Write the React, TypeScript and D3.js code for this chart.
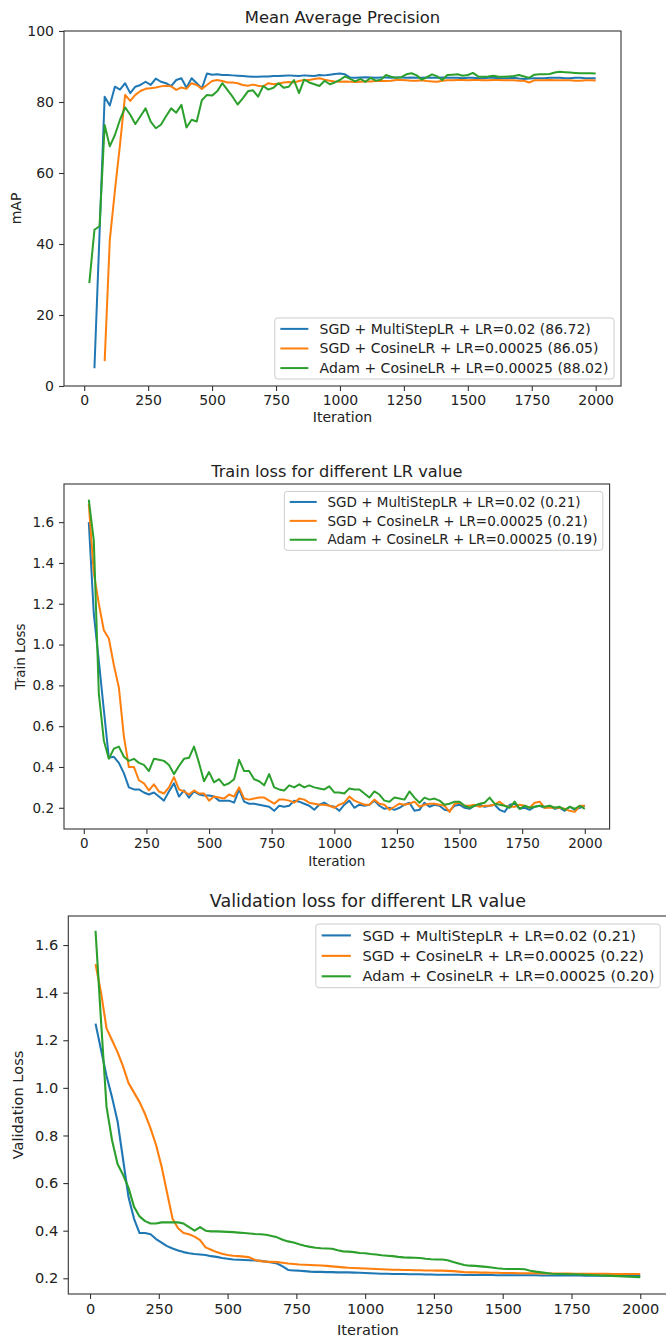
import React, { useEffect, useRef } from "react";
import * as d3 from "d3";

// evaluation every 20 iterations
const ITER_STEP = 20;
const X_TICKS = [0, 250, 500, 750, 1000, 1250, 1500, 1750, 2000];
const COLORS = ["#1f77b4", "#ff7f0e", "#2ca02c"];
const FONT = "'DejaVu Sans', Verdana, sans-serif";

// ---- Mean Average Precision ----
const mapLabels = [
  "SGD + MultiStepLR + LR=0.02 (86.72)",
  "SGD + CosineLR + LR=0.00025 (86.05)",
  "Adam + CosineLR + LR=0.00025 (88.02)",
];
const mapStart = [40, 80, 20];
const mapSgdMulti = [
  5, 43, 81.5, 79, 84.3, 83.5, 85.3, 82.5, 84.3, 84.8,
  85.7, 84.8, 86.6, 85.7, 85.3, 84.5, 86.2, 86.7, 84, 86.7,
  85.3, 83.8, 88, 87.7, 87.8, 87.6, 87.6, 87.5, 87.4, 87.3,
  87.2, 87.1, 87.1, 87.2, 87.2, 87.3, 87.3, 87.4, 87.5, 87.4,
  87.3, 87.5, 87.4, 87.3, 87.6, 87.5, 87.7, 87.9, 88, 87.8,
  86.9, 86.8, 86.9, 87, 86.9, 86.8, 86.9, 86.9, 86.8, 86.9,
  86.9, 86.8, 86.9, 86.8, 86.8, 86.9, 86.8, 86.8, 86.9, 86.8,
  86.8, 86.8, 86.7, 86.8, 86.8, 86.7, 86.7, 86.8, 86.8, 86.7,
  86.7, 86.7, 86.8, 86.6, 86.5, 86.6, 86.7, 86.7, 86.7, 86.8,
  86.8, 86.8, 86.7, 86.7, 86.8, 86.8, 86.7, 86.7, 86.72,
];
const mapSgdCos = [
  7, 41, 55, 68, 82, 80.3, 82, 83.1, 83.7, 83.9,
  84.1, 84.4, 84.6, 84.4, 83.4, 84.1, 83.7, 85.3, 84.8, 83.7,
  84.8, 85.9, 86.2, 85.9, 85.5, 85.5, 85.3, 84.8, 84.6, 84.9,
  84.6, 84.4, 85.3, 85, 85.2, 85.5, 85.6, 85.5, 85.9, 86.2,
  86.2, 86.5, 86.7, 86.3, 86, 85.8, 85.7, 85.8, 85.7, 85.6,
  85.7, 85.8, 85.8, 85.9, 85.9, 85.9, 86, 86.2, 86.2, 86.1,
  86, 86, 86.1, 85.9, 85.8, 85.7, 86, 86.1, 86.1, 86.2,
  86.2, 86.1, 86.2, 86.2, 86.1, 86.1, 86.2, 86.2, 86.1, 86.1,
  86.1, 86, 86, 85.5, 86.1, 86.1, 86.1, 86.2, 86.1, 86.1,
  86.1, 86.1, 86, 86, 86.1, 86.1, 86.05,
];
const mapAdamCos = [
  29, 44, 45, 73.5, 67.5, 70.7, 75, 78.5, 76.4, 73.8,
  76, 78.2, 74.5, 72.6, 73.6, 76, 78.2, 77, 79.2, 72.8,
  75, 74.5, 80.5, 82, 81.8, 83, 85.3, 83.4, 81.5, 79.3,
  81, 83, 83.3, 81.5, 84.5, 83.5, 84, 85.3, 84, 84.3,
  86.2, 82.5, 86.3, 85.5, 85, 84.5, 86, 85, 85.5, 86.2,
  87.2, 86.5, 85.8, 86.5, 85.7, 86.8, 86, 86.3, 87.6, 87.1,
  86.8, 87, 87.8, 88.1, 87.5, 86.3, 87, 87.8, 87.2, 86.2,
  87.6, 87.7, 87.8, 87.4, 87.6, 88.2, 87.2, 87.1, 87.2, 87.4,
  87.1, 87.1, 87.2, 87.3, 87.6, 87.2, 86.8, 87.7, 87.8, 87.8,
  87.9, 88.3, 88.5, 88.4, 88.3, 88.2, 88.1, 88.1, 88.1, 88.0,
];
const mapYTicks = [0, 20, 40, 60, 80, 100];

// ---- Train loss ----
const trainLabels = [
  "SGD + MultiStepLR + LR=0.02 (0.21)",
  "SGD + CosineLR + LR=0.00025 (0.21)",
  "Adam + CosineLR + LR=0.00025 (0.19)",
];
const trainStart = [20, 20, 20];
const trainSgdMulti = [
  1.6, 1.15, 0.92, 0.68, 0.445, 0.45, 0.42, 0.37, 0.3, 0.29,
  0.29, 0.275, 0.265, 0.275, 0.255, 0.235, 0.28, 0.32, 0.255, 0.285,
  0.25, 0.28, 0.265, 0.26, 0.26, 0.255, 0.235, 0.235, 0.235, 0.225,
  0.29, 0.23, 0.22, 0.22, 0.215, 0.21, 0.205, 0.185, 0.21, 0.205,
  0.21, 0.235, 0.23, 0.22, 0.21, 0.19, 0.215, 0.225, 0.21, 0.205,
  0.185, 0.215, 0.235, 0.2, 0.215, 0.21, 0.215, 0.235, 0.21, 0.195,
  0.2, 0.19, 0.2, 0.215, 0.225, 0.185, 0.19, 0.225, 0.205, 0.215,
  0.21, 0.19, 0.185, 0.21, 0.215, 0.2, 0.195, 0.21, 0.215, 0.205,
  0.21, 0.215, 0.19, 0.18, 0.215, 0.22, 0.195, 0.2, 0.19, 0.205,
  0.21, 0.2, 0.21, 0.195, 0.2, 0.185, 0.205, 0.19, 0.2, 0.21,
];
const trainSgdCos = [
  1.69, 1.35, 1.2, 1.07, 1.03, 0.9, 0.79, 0.55, 0.4, 0.4,
  0.335, 0.32, 0.285, 0.315, 0.28, 0.27, 0.3, 0.35, 0.29, 0.28,
  0.265, 0.285, 0.27, 0.27, 0.235, 0.255, 0.25, 0.245, 0.265, 0.255,
  0.3, 0.245, 0.24, 0.245, 0.25, 0.25, 0.235, 0.22, 0.24, 0.24,
  0.235, 0.225, 0.245, 0.24, 0.225, 0.22, 0.215, 0.215, 0.21, 0.2,
  0.215, 0.225, 0.255, 0.235, 0.225, 0.215, 0.215, 0.24, 0.22, 0.215,
  0.19, 0.205, 0.22, 0.215, 0.22, 0.23, 0.205, 0.215, 0.22, 0.22,
  0.215, 0.21, 0.18, 0.22, 0.225, 0.21, 0.21, 0.215, 0.205, 0.21,
  0.21, 0.215, 0.23, 0.21, 0.205, 0.205, 0.215, 0.21, 0.2, 0.225,
  0.23, 0.2, 0.2, 0.2, 0.2, 0.195, 0.185, 0.18, 0.21, 0.21,
];
const trainAdamCos = [
  1.71, 1.51, 0.76, 0.53, 0.44, 0.49, 0.5, 0.45, 0.43, 0.44,
  0.42, 0.41, 0.38, 0.44, 0.435, 0.43, 0.41, 0.365, 0.405, 0.44,
  0.445, 0.5, 0.42, 0.33, 0.375, 0.325, 0.34, 0.31, 0.32, 0.34,
  0.435, 0.38, 0.38, 0.34, 0.33, 0.31, 0.365, 0.3, 0.29, 0.285,
  0.31, 0.3, 0.315, 0.3, 0.31, 0.3, 0.295, 0.29, 0.305, 0.275,
  0.275, 0.27, 0.295, 0.29, 0.29, 0.27, 0.25, 0.28, 0.265, 0.235,
  0.23, 0.25, 0.245, 0.24, 0.28, 0.25, 0.225, 0.25, 0.24, 0.245,
  0.235, 0.215, 0.22, 0.23, 0.23, 0.21, 0.2, 0.21, 0.22, 0.225,
  0.25, 0.22, 0.215, 0.21, 0.2, 0.23, 0.195, 0.21, 0.2, 0.205,
  0.21, 0.205, 0.21, 0.2, 0.205, 0.19, 0.205, 0.195, 0.21, 0.195,
];
const lossYTicks = [0.2, 0.4, 0.6, 0.8, 1.0, 1.2, 1.4, 1.6];

// ---- Validation loss ----
const valLabels = [
  "SGD + MultiStepLR + LR=0.02 (0.21)",
  "SGD + CosineLR + LR=0.00025 (0.22)",
  "Adam + CosineLR + LR=0.00025 (0.20)",
];
const valStart = [20, 20, 20];
const valSgdMulti = [
  1.27, 1.16, 1.05, 0.96, 0.86, 0.7, 0.54, 0.45, 0.39, 0.39,
  0.385, 0.365, 0.35, 0.335, 0.325, 0.317, 0.31, 0.305, 0.302, 0.3,
  0.298, 0.293, 0.29, 0.285, 0.282, 0.279, 0.278, 0.277, 0.276, 0.275,
  0.273, 0.27, 0.266, 0.262, 0.25, 0.235, 0.233, 0.232, 0.23, 0.228,
  0.227, 0.227, 0.226, 0.226, 0.225, 0.225, 0.225, 0.224, 0.223, 0.222,
  0.221, 0.22, 0.219, 0.219, 0.218, 0.218, 0.218, 0.217, 0.217, 0.217,
  0.216, 0.216, 0.215, 0.215, 0.215, 0.215, 0.215, 0.214, 0.214, 0.214,
  0.214, 0.214, 0.214, 0.213, 0.213, 0.213, 0.213, 0.213, 0.213, 0.213,
  0.213, 0.212, 0.212, 0.212, 0.212, 0.212, 0.212, 0.212, 0.212, 0.211,
  0.211, 0.211, 0.211, 0.211, 0.211, 0.21, 0.21, 0.21, 0.21, 0.21,
];
const valSgdCos = [
  1.52, 1.4, 1.25, 1.2, 1.15, 1.09, 1.02, 0.98, 0.94, 0.89,
  0.83, 0.76, 0.67, 0.56, 0.45, 0.41, 0.39, 0.385, 0.375, 0.36,
  0.33, 0.32, 0.31, 0.303, 0.298, 0.295, 0.293, 0.291, 0.288, 0.277,
  0.272, 0.27, 0.269, 0.268, 0.265, 0.262, 0.26, 0.258, 0.257, 0.256,
  0.255, 0.254, 0.252, 0.25, 0.248, 0.246, 0.244, 0.243, 0.242, 0.241,
  0.24, 0.239, 0.238, 0.237, 0.236, 0.236, 0.235, 0.235, 0.234, 0.234,
  0.233, 0.233, 0.232, 0.232, 0.231, 0.23, 0.228, 0.226, 0.225, 0.225,
  0.224, 0.224, 0.223, 0.223, 0.222, 0.222, 0.222, 0.221, 0.221, 0.221,
  0.221, 0.22, 0.22, 0.22, 0.22, 0.22, 0.22, 0.219, 0.219, 0.219,
  0.219, 0.219, 0.219, 0.219, 0.218, 0.218, 0.218, 0.218, 0.218, 0.218,
];
const valAdamCos = [
  1.66, 1.28, 0.92, 0.78, 0.68, 0.635, 0.58, 0.5, 0.46, 0.44,
  0.43, 0.43, 0.435, 0.435, 0.435, 0.435, 0.43, 0.415, 0.4, 0.415,
  0.4, 0.397, 0.397, 0.396, 0.395, 0.394, 0.392, 0.39, 0.388, 0.386,
  0.385, 0.383, 0.378, 0.372, 0.362, 0.355, 0.35, 0.343, 0.337, 0.332,
  0.328, 0.326, 0.325, 0.324, 0.318, 0.313, 0.312, 0.31, 0.306, 0.305,
  0.302, 0.3, 0.297, 0.295, 0.293, 0.29, 0.288, 0.287, 0.286, 0.285,
  0.282, 0.28, 0.279, 0.279, 0.276, 0.268, 0.262, 0.256, 0.253, 0.252,
  0.25, 0.248, 0.245, 0.242, 0.24, 0.239, 0.239, 0.239, 0.238, 0.232,
  0.228, 0.225, 0.222, 0.219, 0.218, 0.218, 0.217, 0.217, 0.216, 0.215,
  0.214, 0.213, 0.212, 0.211, 0.21, 0.209, 0.208, 0.207, 0.206, 0.205,
];

const charts = [
  {
    title: "Mean Average Precision",
    yLabel: "mAP",
    left: 64, right: 621, top: 31, bottom: 386,
    yDomain: [0, 100],
    yTicks: mapYTicks,
    fmt: d3.format("d"),
    font: 14, titleFont: 16.4, lw: 2,
    titleY: 23, xLabelY: 422, yLabelX: 16.5,
    legend: "lower right",
    labels: mapLabels, starts: mapStart,
    series: [mapSgdMulti, mapSgdCos, mapAdamCos],
  },
  {
    title: "Train loss for different LR value",
    yLabel: "Train Loss",
    left: 64, right: 609.6, top: 484, bottom: 829,
    yDomain: [0.096, 1.787],
    yTicks: lossYTicks,
    fmt: d3.format(".1f"),
    font: 13.5, titleFont: 16.2, lw: 2,
    titleY: 477, xLabelY: 866, yLabelX: 20.5,
    legend: "upper right",
    labels: trainLabels, starts: trainStart,
    series: [trainSgdMulti, trainSgdCos, trainAdamCos],
  },
  {
    title: "Validation loss for different LR value",
    yLabel: "Validation Loss",
    left: 68.3, right: 667.5, top: 916, bottom: 1294,
    yDomain: [0.134, 1.722],
    yTicks: lossYTicks,
    fmt: d3.format(".1f"),
    font: 14.6, titleFont: 17.5, lw: 2.1,
    titleY: 907, xLabelY: 1335, yLabelX: 17.5,
    legend: "upper right",
    labels: valLabels, starts: valStart,
    series: [valSgdMulti, valSgdCos, valAdamCos],
  },
];

function drawChart(svg, c) {
  const g = svg.append("g");
  const x = d3.scaleLinear().domain([-79, 2099]).range([c.left, c.right]);
  const y = d3.scaleLinear().domain(c.yDomain).range([c.bottom, c.top]);

  const line = d3
    .line()
    .x((d) => x(d[0]))
    .y((d) => y(d[1]));

  c.series.forEach((vals, i) => {
    const pts = vals.map((v, k) => [c.starts[i] + k * ITER_STEP, v]);
    g.append("path")
      .attr("d", line(pts))
      .attr("fill", "none")
      .attr("stroke", COLORS[i])
      .attr("stroke-width", c.lw)
      .attr("stroke-linejoin", "round");
  });

  // axes
  const xAxis = g
    .append("g")
    .attr("transform", `translate(0,${c.bottom})`)
    .call(
      d3.axisBottom(x).tickValues(X_TICKS).tickFormat(d3.format("d")).tickSize(5).tickPadding(4.5)
    );
  const yAxis = g
    .append("g")
    .attr("transform", `translate(${c.left},0)`)
    .call(d3.axisLeft(y).tickValues(c.yTicks).tickFormat(c.fmt).tickSize(5).tickPadding(5));
  [xAxis, yAxis].forEach((a) => {
    a.select(".domain").remove();
    a.selectAll("line").attr("stroke", "#333").attr("stroke-width", 1.1);
    a.selectAll("text")
      .attr("fill", "#222")
      .style("font-family", FONT)
      .style("font-size", c.font + "px");
  });

  // spines
  g.append("rect")
    .attr("x", c.left)
    .attr("y", c.top)
    .attr("width", c.right - c.left)
    .attr("height", c.bottom - c.top)
    .attr("fill", "none")
    .attr("stroke", "#333")
    .attr("stroke-width", 1.1);

  // title + axis labels
  const midX = (c.left + c.right) / 2;
  g.append("text")
    .attr("x", midX)
    .attr("y", c.titleY)
    .attr("text-anchor", "middle")
    .attr("fill", "#222")
    .style("font-family", FONT)
    .style("font-size", c.titleFont + "px")
    .text(c.title);
  g.append("text")
    .attr("x", midX)
    .attr("y", c.xLabelY)
    .attr("text-anchor", "middle")
    .attr("fill", "#222")
    .style("font-family", FONT)
    .style("font-size", c.font + "px")
    .text("Iteration");
  g.append("text")
    .attr("transform", `translate(${c.yLabelX},${(c.top + c.bottom) / 2}) rotate(-90)`)
    .attr("dy", "0.35em")
    .attr("text-anchor", "middle")
    .attr("fill", "#222")
    .style("font-family", FONT)
    .style("font-size", c.font + "px")
    .text(c.yLabel);

  // legend (matplotlib-like spacing)
  const f = c.font;
  const pad = 0.4 * f;
  const handleLen = 2 * f;
  const textPad = 0.8 * f;
  const rowStep = 1.4 * f;
  const edge = 0.78 * f;
  const boxH = 2 * edge + rowStep * (c.labels.length - 1);
  const lg = g.append("g");
  const box = lg.append("rect");
  const texts = c.labels.map((lab) =>
    lg
      .append("text")
      .attr("fill", "#222")
      .style("font-family", FONT)
      .style("font-size", f + "px")
      .attr("dy", "0.35em")
      .text(lab)
  );
  const textW = d3.max(texts, (t) => t.node().getComputedTextLength());
  const boxW = pad + handleLen + textPad + textW + pad;
  const bx = c.right - 0.5 * f - boxW;
  const by = c.legend === "lower right" ? c.bottom - 0.5 * f - boxH : c.top + 0.55 * f;
  box
    .attr("x", bx)
    .attr("y", by)
    .attr("width", boxW)
    .attr("height", boxH)
    .attr("rx", 3)
    .attr("fill", "white")
    .attr("fill-opacity", 0.8)
    .attr("stroke", "#cccccc")
    .attr("stroke-width", 1);
  texts.forEach((t, i) => {
    const ry = by + edge + i * rowStep;
    lg.append("line")
      .attr("x1", bx + pad)
      .attr("x2", bx + pad + handleLen)
      .attr("y1", ry)
      .attr("y2", ry)
      .attr("stroke", COLORS[i])
      .attr("stroke-width", c.lw);
    t.attr("x", bx + pad + handleLen + textPad).attr("y", ry);
  });
}

export default function App() {
  const svgRef = useRef(null);

  useEffect(() => {
    document.body.style.margin = "0";
    const svg = d3.select(svgRef.current);
    svg.selectAll("*").remove();
    svg.append("rect").attr("width", 666).attr("height", 1339).attr("fill", "white");
    charts.forEach((c) => drawChart(svg, c));
  }, []);

  return (
    <svg
      ref={svgRef}
      width={666}
      height={1339}
      style={{ position: "absolute", left: 0, top: 0, display: "block" }}
    />
  );
}
